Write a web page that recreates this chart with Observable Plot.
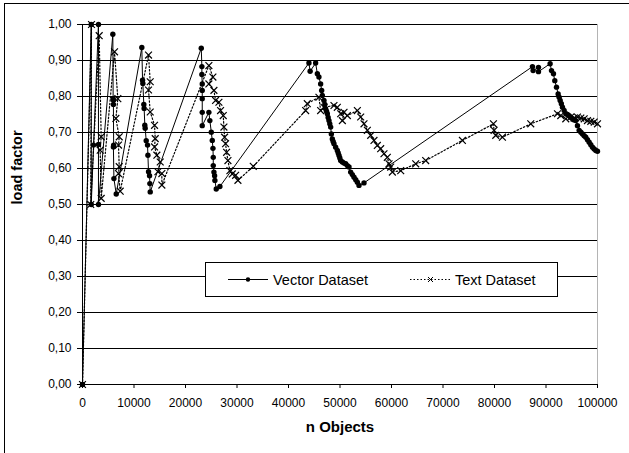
<!DOCTYPE html>
<html>
<head>
<meta charset="utf-8">
<script src="https://cdn.jsdelivr.net/npm/d3@7"></script>
<script src="https://cdn.jsdelivr.net/npm/@observablehq/plot@0.6"></script>
<style>
  html, body { margin: 0; padding: 0; background: #fff; overflow: hidden; }
  #chart { position: relative; width: 629px; height: 453px; font-family: "Liberation Sans", Arial, sans-serif; }
  #border { position: absolute; left: 4px; top: 3px; width: 700px; height: 500px; border: 1px solid #000; pointer-events: none; }
  #legend { position: absolute; left: 205px; top: 262px; width: 353px; height: 35px; box-sizing: border-box;
            border: 1px solid #000; background: #fff; }
</style>
</head>
<body>
<div id="chart"></div>
<script>
// Load factor of the hash table as objects are inserted, for two datasets.
const vectorX = [0, 1700, 1700, 2150, 3100, 3100, 3100,
  5890, 5950, 5990, 6000, 6050, 6000, 6100, 6550,
  11520, 11660, 11720, 11910, 11970, 12100, 12170, 12370, 12630, 12700, 12820, 13020, 13080, 13150,
  23060, 23180, 23180, 23250, 23250, 23250, 23250, 23250,
  24540, 24730, 25010, 25200, 25330, 25390, 25390, 25520, 25650, 25710, 25970, 26680,
  43970, 44200, 45270,
  45600, 45910, 46240, 46440, 46570, 46890, 47050, 47210, 47380, 47540, 47700, 47860, 48020, 48190,
  48320, 48510, 48670, 48830, 49160, 49480, 49650, 49810, 49970, 50130, 50460, 50780, 51100, 51430,
  51750, 52070, 52400, 52720, 53050, 53370, 53690, 54660,
  87370, 87500, 88540, 88540, 90800,
  91070, 91450, 91710, 92040, 92360, 92550, 92750, 92980, 93200, 93520, 93850, 94170, 94490, 94820,
  95150, 95470, 95790, 96110, 96440, 96770, 97090, 97410, 97730, 98050, 98380, 98700, 99030, 99350,
  99670, 100000];
const vectorY = [0, 1.0, 0.5, 0.665, 1.0, 0.667, 0.5,
  0.973, 0.794, 0.79, 0.778, 0.665, 0.66, 0.572, 0.529,
  0.936, 0.845, 0.836, 0.778, 0.767, 0.72, 0.712, 0.677, 0.665, 0.637, 0.591, 0.58, 0.558, 0.535,
  0.934, 0.883, 0.861, 0.835, 0.817, 0.794, 0.756, 0.719,
  0.756, 0.733, 0.701, 0.678, 0.656, 0.631, 0.608, 0.59, 0.58, 0.567, 0.543, 0.55,
  0.893, 0.87, 0.893,
  0.863, 0.854, 0.835, 0.817, 0.803, 0.789, 0.778, 0.766, 0.759, 0.752, 0.742, 0.733, 0.724, 0.715,
  0.696, 0.682, 0.675, 0.669, 0.659, 0.65, 0.643, 0.636, 0.629, 0.622, 0.618, 0.615, 0.613, 0.608,
  0.604, 0.59, 0.583, 0.576, 0.569, 0.562, 0.553, 0.56,
  0.883, 0.872, 0.881, 0.869, 0.891,
  0.872, 0.863, 0.844, 0.826, 0.807, 0.798, 0.789, 0.78, 0.77, 0.761, 0.752, 0.75, 0.747, 0.742,
  0.738, 0.735, 0.733, 0.719, 0.706, 0.701, 0.696, 0.691, 0.687, 0.68, 0.673, 0.666, 0.659, 0.654,
  0.65, 0.648];

const textX = [0, 1750, 1600, 3240, 3630, 3430, 3630,
  6220, 6860, 6480, 7130, 6990, 7130, 6990, 7320,
  12820, 13150, 12820, 13150, 13990, 14120, 13990, 14440, 15090, 14640, 15410, 15410,
  24540, 25320, 24540, 25520, 25840, 26490, 26810, 27330, 27460, 27590, 27780, 27980, 28240, 28620,
  29080, 29730, 30180, 33160,
  43330, 43650, 45910, 46240, 46890, 48830, 49480, 50130, 50780, 50460, 51430, 53370,
  54020, 54660, 55310, 55960, 56600, 57250, 57900, 58540, 59190, 59520, 59840, 60170,
  61790, 64700, 66640, 73770, 79790, 79920, 80240, 81540, 87040,
  92230, 92870, 93840, 94810, 95460, 96110, 96760, 97410, 98050, 98700, 99350, 100000];
const textY = [0, 1.0, 0.5, 0.969, 0.688, 0.651, 0.517,
  0.924, 0.794, 0.739, 0.688, 0.665, 0.605, 0.586, 0.537,
  0.915, 0.841, 0.818, 0.757, 0.72, 0.683, 0.66, 0.637, 0.618, 0.591, 0.586, 0.554,
  0.886, 0.854, 0.835, 0.817, 0.789, 0.784, 0.761, 0.747, 0.715, 0.687, 0.669, 0.645, 0.622, 0.594,
  0.585, 0.581, 0.567, 0.606,
  0.761, 0.78, 0.798, 0.761, 0.77, 0.775, 0.77, 0.752, 0.756, 0.733, 0.747, 0.761,
  0.743, 0.724, 0.706, 0.692, 0.678, 0.664, 0.655, 0.641, 0.631, 0.613, 0.604, 0.59,
  0.594, 0.613, 0.622, 0.678, 0.724, 0.706, 0.692, 0.687, 0.724,
  0.752, 0.747, 0.738, 0.743, 0.74, 0.743, 0.74, 0.738, 0.733, 0.731, 0.729, 0.724];

const seriesNames = ["Vector Dataset", "Text Dataset"];
const xTicks = d3.range(0, 100001, 10000);
const yTicks = d3.range(0, 11).map(i => i / 10);

const vector = vectorX.map((x, i) => ({x, y: vectorY[i]}));
const text = textX.map((x, i) => ({x, y: textY[i]}));

const commaDecimal = d => d.toFixed(2).replace(".", ",");

const chart = Plot.plot({
  width: 629,
  height: 453,
  marginTop: 24,
  marginRight: 32,
  marginBottom: 69,
  marginLeft: 82,
  style: {fontFamily: "'Liberation Sans', Arial, sans-serif", fontSize: "12px", background: "transparent", color: "#000"},
  x: {domain: [0, 100000], ticks: xTicks, tickFormat: d3.format("d"), tickSize: 4, tickPadding: 10, label: null},
  y: {domain: [0, 1], ticks: yTicks, tickFormat: commaDecimal, tickSize: 5, tickPadding: 6, label: null},
  marks: [
    Plot.ruleY(yTicks, {stroke: "#000", strokeWidth: 1}),
    Plot.ruleX([100000], {stroke: "#b4b4b4", strokeWidth: 1}),
    Plot.ruleX([0], {stroke: "#000", strokeWidth: 1}),
    Plot.ruleY([0], {stroke: "#000", strokeWidth: 1}),
    Plot.line(text, {x: "x", y: "y", stroke: "#000", strokeWidth: 1.2, strokeDasharray: "1.5,2"}),
    Plot.line(vector, {x: "x", y: "y", stroke: "#000", strokeWidth: 1}),
    Plot.dot(text, {x: "x", y: "y", symbol: "times", r: 3.2, stroke: "#000", strokeWidth: 1.2}),
    Plot.dot(vector, {x: "x", y: "y", r: 2.7, fill: "#000", stroke: "none"}),
    Plot.text(["load factor"], {frameAnchor: "left", dx: -65, rotate: -90, fontWeight: "bold", fontSize: 14.5}),
    Plot.text(["n Objects"], {frameAnchor: "bottom", dy: 47, fontWeight: "bold", fontSize: 15})
  ]
});

const root = document.getElementById("chart");
root.appendChild(chart);

// Outer chart frame
const frame = document.createElement("div");
frame.id = "border";
root.appendChild(frame);

// Legend box
const legend = d3.select(root).append("div").attr("id", "legend");
const lsvg = legend.append("svg").attr("width", 351).attr("height", 33)
  .style("font-family", "'Liberation Sans', Arial, sans-serif").style("font-size", "14.5px");
const ly = 16.5;
lsvg.append("line").attr("x1", 22).attr("x2", 62).attr("y1", ly).attr("y2", ly).attr("stroke", "#000");
lsvg.append("circle").attr("cx", 42).attr("cy", ly).attr("r", 2.2).attr("fill", "#000");
lsvg.append("text").attr("x", 67).attr("y", ly).attr("dy", "0.35em").text(seriesNames[0]);
lsvg.append("line").attr("x1", 204).attr("x2", 246).attr("y1", ly).attr("y2", ly)
  .attr("stroke", "#000").attr("stroke-dasharray", "1.5,2");
lsvg.append("path").attr("d", `M${222},${ly - 2.5}l5,5M${222},${ly + 2.5}l5,-5`).attr("stroke", "#000").attr("fill", "none");
lsvg.append("text").attr("x", 249).attr("y", ly).attr("dy", "0.35em").text(seriesNames[1]);
</script>
</body>
</html>
